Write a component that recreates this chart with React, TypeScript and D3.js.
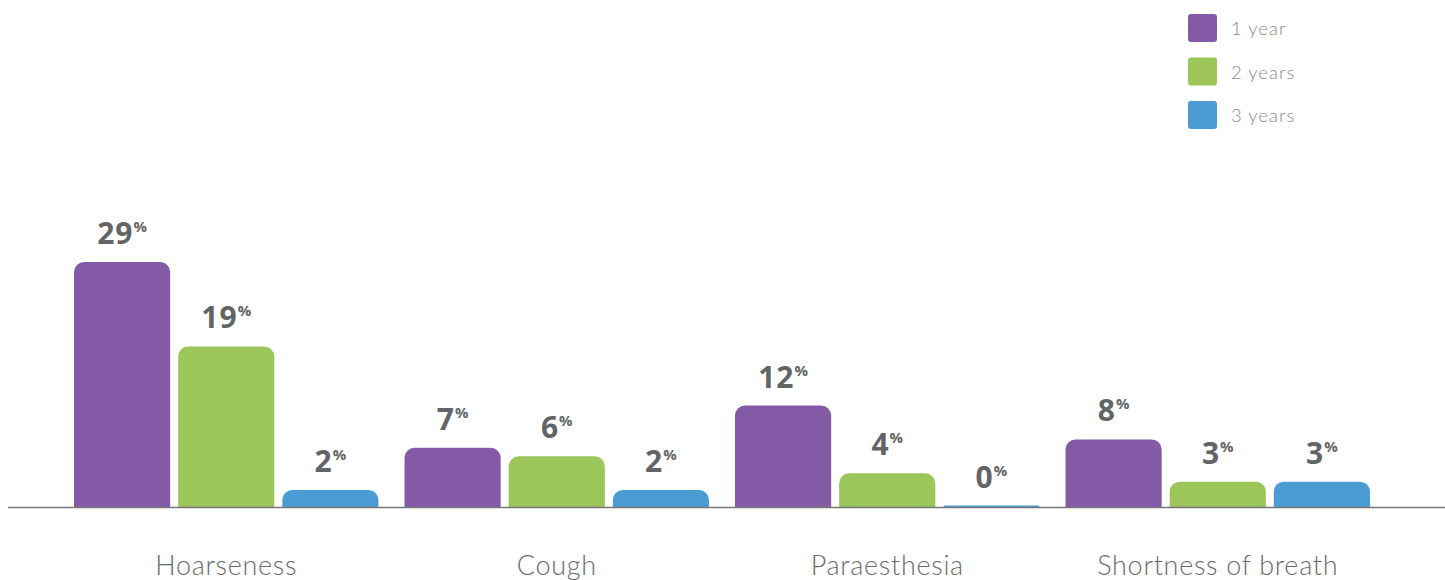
import React from "react";
import * as d3 from "d3";

const categories = ["Hoarseness", "Cough", "Paraesthesia", "Shortness of breath"];
const seriesNames = ["1 year", "2 years", "3 years"];
const oneYear = [29, 7, 12, 8];
const twoYears = [19, 6, 4, 3];
const threeYears = [2, 2, 0, 3];
const seriesColors = ["#8459a5", "#9cc65a", "#4b9cd4"];

const W = 1445;
const H = 580;
const baseY = 507;

function topRoundedRect(x: number, y: number, w: number, h: number, r: number) {
  const rr = Math.max(0, Math.min(r, h, w / 2));
  const p = d3.path();
  p.moveTo(x, y + h);
  p.lineTo(x, y + rr);
  p.arcTo(x, y, x + rr, y, rr);
  p.lineTo(x + w - rr, y);
  p.arcTo(x + w, y, x + w, y + rr, rr);
  p.lineTo(x + w, y + h);
  p.closePath();
  return p.toString();
}

export default function App() {
  const series = [oneYear, twoYears, threeYears];
  const x0 = d3
    .scaleBand<string>()
    .domain(categories)
    .range([61, 1383])
    .paddingInner(0.0788)
    .paddingOuter(0.0394);
  const x1 = d3
    .scaleBand<string>()
    .domain(seriesNames)
    .range([0, x0.bandwidth()])
    .paddingInner(0.077);
  const y = d3.scaleLinear().domain([0, 29]).range([baseY, baseY - 245]);

  const labelFont = "'Open Sans', 'DejaVu Sans', sans-serif";
  const lightFont = "Lato, 'Open Sans', sans-serif";

  return (
    <svg width={W} height={H} style={{ position: "absolute", left: 0, top: 0 }}>
      <rect width={W} height={H} fill="#ffffff" />
      {categories.map((cat, ci) => (
        <g key={cat} transform={`translate(${x0(cat)},0)`}>
          {series.map((vals, si) => {
            const v = vals[ci];
            const bx = x1(seriesNames[si])!;
            const bw = x1.bandwidth();
            const top = y(v);
            const h = Math.max(baseY - top, 1.5);
            return (
              <g key={si}>
                <path d={topRoundedRect(bx, baseY - h, bw, h, 10)} fill={seriesColors[si]} />
                <text
                  x={bx + bw / 2}
                  y={baseY - h - 18}
                  textAnchor="middle"
                  fill="#636466"
                  fontFamily={labelFont}
                  fontWeight={700}
                  fontSize={30}
                  letterSpacing={1}
                >
                  {v}
                  <tspan fontSize={15} dy={-12} dx={0} letterSpacing={0}>%</tspan>
                </text>
              </g>
            );
          })}
          <text
            x={x0.bandwidth() / 2}
            y={575}
            textAnchor="middle"
            fill="#6a6b6d"
            fontFamily={lightFont}
            fontWeight={300}
            fontSize={27}
            letterSpacing={0.7}
          >
            {cat}
          </text>
        </g>
      ))}
      <line x1={8} x2={W} y1={baseY + 0.5} y2={baseY + 0.5} stroke="#777777" strokeWidth={1.5} />
      {seriesNames.map((name, i) => (
        <g key={name} transform={`translate(1188,${14 + i * 43.5})`}>
          <rect width={29} height={28} rx={3} fill={seriesColors[i]} />
          <text
            x={43}
            y={21}
            fill="#8a8b8d"
            fontFamily={lightFont}
            fontWeight={300}
            fontSize={18.5}
            letterSpacing={1}
          >
            {name}
          </text>
        </g>
      ))}
    </svg>
  );
}
